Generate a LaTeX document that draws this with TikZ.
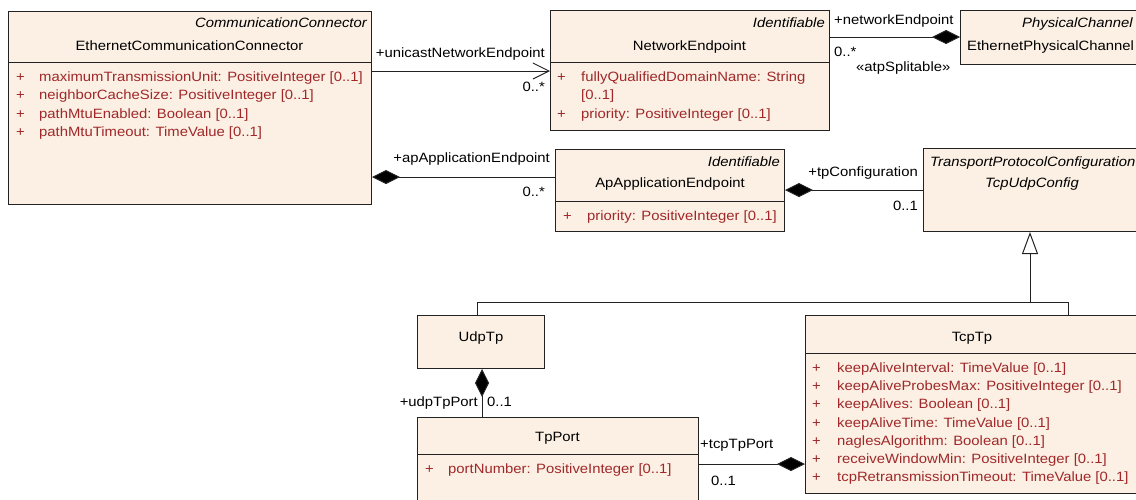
\documentclass[tikz,border=0pt]{standalone}
\usepackage{fontspec}
\setmainfont{Liberation Sans}[FakeStretch=1.1]
\usetikzlibrary{arrows.meta}
\definecolor{boxfill}{HTML}{FBF0E3}
\definecolor{attrred}{HTML}{A0282A}
\definecolor{edge}{HTML}{222222}
\tikzset{
  umlbox/.style={draw=edge, fill=boxfill, line width=1pt, inner sep=0pt, anchor=north west},
  txt/.style={inner sep=0pt, font=\fontsize{13.5}{16}\selectfont, text=black},
  stereo/.style={txt, font=\fontsize{13.5}{16}\selectfont\itshape},
  attr/.style={txt, text=attrred},
  conn/.style={draw=edge, line width=1pt},
  compos/.style={conn, {Diamond[length=28pt,width=14pt,fill=black]}-},
  composend/.style={conn, -{Diamond[length=28pt,width=14pt,fill=black]}},
  navig/.style={conn, -{Straight Barb[length=16pt,width=16pt,line width=1pt]}},
  gener/.style={conn, -{Triangle[open,length=22pt,width=16pt,fill=white,line width=1pt]}},
  divider/.style={draw=edge, line width=1pt}
}
\begin{document}
\begin{tikzpicture}[x=1pt,y=-1pt]
\useasboundingbox (0,0) rectangle (1136,499);
\fill[white] (0,0) rectangle (1136,499);

% ---------- boxes ----------
\node[umlbox, minimum width=363pt, minimum height=193pt] (ecc) at (8,11) {};
\draw[divider] ([yshift=-51pt]ecc.north west) -- ([yshift=-51pt]ecc.north east);
\node[stereo, anchor=base east] (eccS) at (367,27) {CommunicationConnector};
\node[txt, anchor=base] (eccN) at (189.5,50) {EthernetCommunicationConnector};
\foreach \t/\y [count=\i] in {{maximumTransmissionUnit: PositiveInteger [0..1]}/81.5,{neighborCacheSize: PositiveInteger [0..1]}/99.8,{pathMtuEnabled: Boolean [0..1]}/118.1,{pathMtuTimeout: TimeValue [0..1]}/136.4}{
  \node[attr, anchor=base west] (eccP\i) at (16,\y) {+};
  \node[attr, anchor=base west] (eccA\i) at (39,\y) {\t};
}

\node[umlbox, minimum width=279pt, minimum height=120pt] (ne) at (550,10) {};
\draw[divider] ([yshift=-52pt]ne.north west) -- ([yshift=-52pt]ne.north east);
\node[stereo, anchor=base east] (neS) at (825,27) {Identifiable};
\node[txt, anchor=base] (neN) at (689.5,50) {NetworkEndpoint};
\node[attr, anchor=base west] (neP1) at (557,81.5) {+};
\node[attr, anchor=base west] (neA1) at (581,81.5) {fullyQualifiedDomainName: String};
\node[attr, anchor=base west] (neA1b) at (581,99.8) {[0..1]};
\node[attr, anchor=base west] (neP2) at (557,118.1) {+};
\node[attr, anchor=base west] (neA2) at (581,118.1) {priority: PositiveInteger [0..1]};

\node[umlbox, minimum width=200pt, minimum height=54pt] (epc) at (960,10) {};
\node[stereo, anchor=base east] (epcS) at (1133,27) {PhysicalChannel};
\node[txt, anchor=base west] (epcN) at (967,50) {EthernetPhysicalChannel};

\node[umlbox, minimum width=229pt, minimum height=82pt] (ape) at (555,149) {};
\draw[divider] ([yshift=-52pt]ape.north west) -- ([yshift=-52pt]ape.north east);
\node[stereo, anchor=base east] (apeS) at (780,166.5) {Identifiable};
\node[txt, anchor=base] (apeN) at (670,187.5) {ApApplicationEndpoint};
\node[attr, anchor=base west] (apeP1) at (563,220.5) {+};
\node[attr, anchor=base west] (apeA1) at (587,220.5) {priority: PositiveInteger [0..1]};

\node[umlbox, minimum width=240pt, minimum height=83pt] (cfg) at (923,148) {};
\node[stereo, anchor=base west] (cfgS) at (930,166.5) {TransportProtocolConfiguration};
\node[stereo, anchor=base] (cfgN) at (1032,187.5) {TcpUdpConfig};

\node[umlbox, minimum width=127pt, minimum height=53pt] (udp) at (417,315) {};
\node[txt, anchor=base] (udpN) at (481,341.5) {UdpTp};

\node[umlbox, minimum width=281pt, minimum height=100pt] (port) at (417,417) {};
\draw[divider] ([yshift=-37pt]port.north west) -- ([yshift=-37pt]port.north east);
\node[txt, anchor=base] (portN) at (557.5,441.5) {TpPort};
\node[attr, anchor=base west] (portP1) at (425,473.5) {+};
\node[attr, anchor=base west] (portA1) at (448,473.5) {portNumber: PositiveInteger [0..1]};

\node[umlbox, minimum width=360pt, minimum height=178pt] (tcp) at (805,315) {};
\draw[divider] ([yshift=-38pt]tcp.north west) -- ([yshift=-38pt]tcp.north east);
\node[txt, anchor=base] (tcpN) at (972,341.5) {TcpTp};
\foreach \t/\y [count=\i] in {{keepAliveInterval: TimeValue [0..1]}/372.5,{keepAliveProbesMax: PositiveInteger [0..1]}/390.7,{keepAlives: Boolean [0..1]}/408.9,{keepAliveTime: TimeValue [0..1]}/427.1,{naglesAlgorithm: Boolean [0..1]}/445.3,{receiveWindowMin: PositiveInteger [0..1]}/463.5,{tcpRetransmissionTimeout: TimeValue [0..1]}/481.7}{
  \node[attr, anchor=base west] (tcpP\i) at (812,\y) {+};
  \node[attr, anchor=base west] (tcpA\i) at (837,\y) {\t};
}

% ---------- helper coordinates ----------
\coordinate (yUni) at (0,71);
\coordinate (yNet) at (0,37);
\coordinate (yApp) at (0,177);
\coordinate (yCfg) at (0,190);
\coordinate (yTcpPort) at (0,464);
\coordinate (gj) at (1030,302);
\coordinate (ux) at (477,0);
\coordinate (tx) at (1068,0);
\coordinate (px) at (482,0);

% ---------- connectors ----------
\draw[navig] (ecc.east |- yUni) -- (ne.west |- yUni);
\node[txt, anchor=base east] (lUni) at (545,57.5) {+unicastNetworkEndpoint};
\node[txt, anchor=base east] (mUni) at (545,91.5) {0..*};

\draw[composend] (ne.east |- yNet) -- (epc.west |- yNet);
\node[txt, anchor=base west] (lNet) at (834,24.5) {+networkEndpoint};
\node[txt, anchor=base west] (mNet) at (834,56.5) {0..*};
\node[txt, anchor=base west] (sNet) at (856,71.5) {«atpSplitable»};

\draw[compos] (ecc.east |- yApp) -- (ape.west |- yApp);
\node[txt, anchor=base east] (lApp) at (550,162.5) {+apApplicationEndpoint};
\node[txt, anchor=base east] (mApp) at (545,196.5) {0..*};

\draw[compos] (ape.east |- yCfg) -- (cfg.west |- yCfg);
\node[txt, anchor=base east] (lCfg) at (918,176.5) {+tpConfiguration};
\node[txt, anchor=base east] (mCfg) at (918,210.5) {0..1};

\draw[conn] (udp.north -| ux) |- (gj);
\draw[conn] (tcp.north -| tx) |- (gj);
\draw[gener] (gj) -- (gj |- cfg.south);

\draw[compos] (udp.south -| px) -- (port.north -| px);
\node[txt, anchor=base east] (lUdp) at (478,406.5) {+udpTpPort};
\node[txt, anchor=base west] (mUdp) at (487,406.5) {0..1};

\draw[composend] (port.east |- yTcpPort) -- (tcp.west |- yTcpPort);
\node[txt, anchor=base west] (lTcp) at (700,448.5) {+tcpTpPort};
\node[txt, anchor=base west] (mTcp) at (711,485.5) {0..1};
\end{tikzpicture}
\end{document}
